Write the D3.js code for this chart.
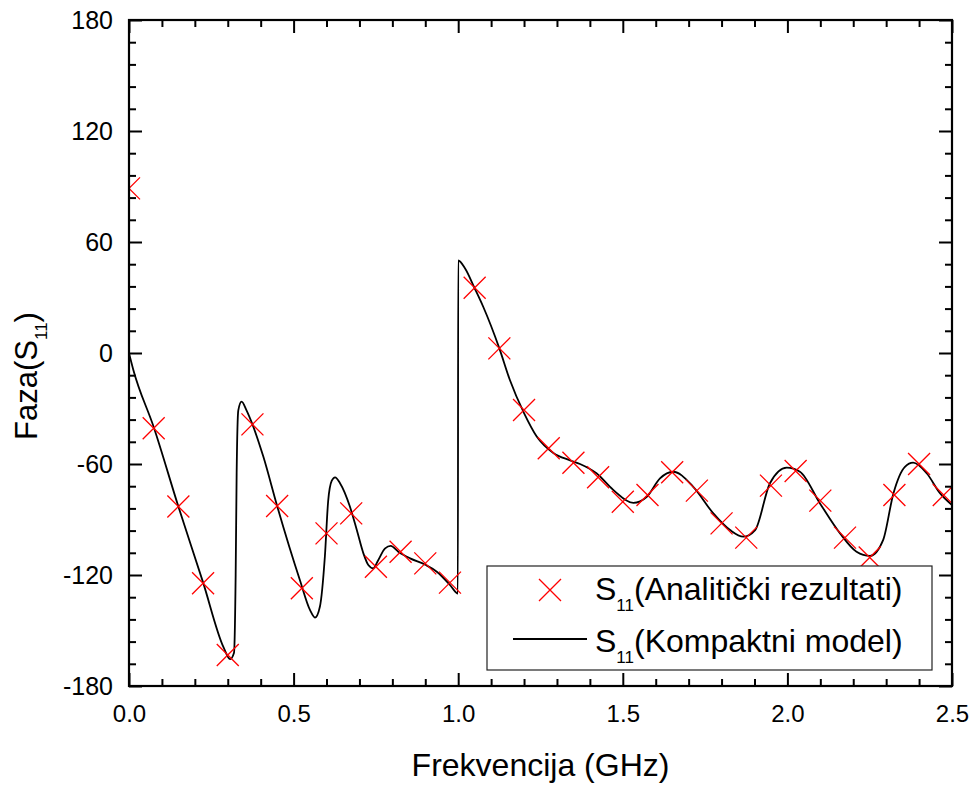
<!DOCTYPE html>
<html>
<head>
<meta charset="utf-8">
<script src="https://cdn.jsdelivr.net/npm/d3@7"></script>
<style>
  html, body { margin: 0; padding: 0; background: #fff; }
  svg { display: block; font-family: Arial, "Liberation Sans", sans-serif; }
</style>
</head>
<body>
<svg id="chart" width="974" height="785"></svg>
<script>
// ---- data ----
const markerFreq = [0, 0.075, 0.15, 0.225, 0.3, 0.375, 0.45, 0.525, 0.6, 0.675, 0.75, 0.825, 0.9, 0.975,
  1.05, 1.125, 1.2, 1.275, 1.35, 1.425, 1.5, 1.575, 1.65, 1.725, 1.8, 1.875, 1.95, 2.025, 2.1, 2.175,
  2.25, 2.325, 2.4, 2.475];
const markerPhase = [89, -40.7, -83, -124.5, -163.2, -38.6, -82.7, -127.2, -97.5, -86.7, -115.5, -107.4, -113.7, -124.1,
  35.3, 2.5, -30.8, -51.5, -59.3, -67.2, -80.4, -76.8, -64.5, -74.4, -92.1, -99.8, -71.7, -63.8, -79.8, -99.8,
  -110.5, -76.8, -60, -76.8];

const lineFreq = [0, 0.013, 0.075, 0.15, 0.225, 0.287, 0.307, 0.319, 0.324, 0.327, 0.332, 0.342, 0.357, 0.375,
  0.408, 0.45, 0.519, 0.55, 0.565, 0.58, 0.595, 0.605, 0.616, 0.626, 0.641, 0.671, 0.692, 0.712, 0.727, 0.742,
  0.757, 0.778, 0.795, 0.818, 0.854, 0.9, 0.935, 0.975, 0.997, 0.999, 1.0, 1.02, 1.05, 1.076, 1.125, 1.157,
  1.2, 1.238, 1.289, 1.34, 1.37, 1.42, 1.471, 1.532, 1.573, 1.613, 1.653, 1.714, 1.775, 1.826, 1.866, 1.902,
  1.947, 1.998, 2.038, 2.099, 2.16, 2.21, 2.251, 2.291, 2.322, 2.357, 2.382, 2.423, 2.464, 2.5];
const linePhase = [0, -9, -40, -83, -124, -159, -165.5, -162, -120, -65, -31, -26.3, -31, -38.6,
  -56, -82.7, -122.7, -139, -143, -137, -110, -80, -69, -67.2, -70.4, -83, -95.7, -108.3, -114.6, -116.4,
  -112, -105.6, -104.3, -107.4, -111, -114.5, -118.2, -125.4, -129.9, -130, 50, 46, 35, 25, 2.5, -14.6,
  -32.5, -45, -54, -58, -60, -65, -74, -81, -77.7, -67.8, -64.2, -72.3, -86.7, -95.7, -99.3, -95.7,
  -70.4, -62, -64.2, -81.3, -97.5, -107.4, -109.7, -101, -75.9, -61.5, -59.3, -65, -75.9, -82.2];

const xTicks = [0, 0.5, 1.0, 1.5, 2.0, 2.5];
const xTickLabels = ["0.0", "0.5", "1.0", "1.5", "2.0", "2.5"];
const yTicks = [-180, -120, -60, 0, 60, 120, 180];
const yTickLabels = ["-180", "-120", "-60", "0", "60", "120", "180"];
const legendLabels = ["(Analitički rezultati)", "(Kompaktni model)"];

// ---- layout ----
const svg = d3.select("#chart");
const L = 129, T = 20, R = 952, B = 686;
const x = d3.scaleLinear().domain([0, 2.5]).range([L, R]);
const y = d3.scaleLinear().domain([-180, 180]).range([B, T]);

svg.append("defs").append("clipPath").attr("id", "clip")
  .append("rect").attr("x", L).attr("y", T).attr("width", R - L).attr("height", B - T);

const plot = svg.append("g").attr("clip-path", "url(#clip)");

// line
const lineData = lineFreq.map((f, i) => [f, linePhase[i]]);
plot.append("path")
  .datum(lineData)
  .attr("fill", "none")
  .attr("stroke", "#000")
  .attr("stroke-width", 1.8)
  .attr("stroke-linejoin", "round")
  .attr("d", d3.line().x(d => x(d[0])).y(d => y(d[1])).curve(d3.curveMonotoneX));

// markers
const ms = 11;
const markerData = markerFreq.map((f, i) => [f, markerPhase[i]]);
plot.selectAll("path.mk").data(markerData).enter().append("path")
  .attr("class", "mk")
  .attr("d", d => {
    const cx = x(d[0]), cy = y(d[1]);
    return `M${cx - ms},${cy - ms}L${cx + ms},${cy + ms}M${cx - ms},${cy + ms}L${cx + ms},${cy - ms}`;
  })
  .attr("stroke", "#ff0000")
  .attr("stroke-width", 1.3)
  .attr("fill", "none");

// ---- axes ----
const majorLen = 13, minorLen = 7;
const xMinor = d3.range(0, 26).map(i => i / 10).filter(v => Math.abs(v * 2 - Math.round(v * 2)) > 1e-6);
const yMinor = d3.range(-180, 181, 12).filter(v => v % 60 !== 0);

function styleAxis(g) {
  g.selectAll(".domain").remove();
  g.selectAll(".tick line").attr("stroke", "#000").attr("stroke-width", 2);
}

// bottom
const gb = svg.append("g").attr("transform", `translate(0,${B})`)
  .call(d3.axisBottom(x).tickValues(xTicks).tickFormat((d, i) => xTickLabels[i]).tickSizeInner(-majorLen).tickSizeOuter(0).tickPadding(19));
styleAxis(gb);
gb.selectAll("text").attr("font-size", 24).attr("fill", "#000").attr("font-family", "Arial, 'Liberation Sans', sans-serif");
const gbm = svg.append("g").attr("transform", `translate(0,${B})`)
  .call(d3.axisBottom(x).tickValues(xMinor).tickFormat("").tickSizeInner(-minorLen).tickSizeOuter(0));
styleAxis(gbm);

// top
const gt = svg.append("g").attr("transform", `translate(0,${T})`)
  .call(d3.axisTop(x).tickValues(xTicks).tickFormat("").tickSizeInner(-majorLen).tickSizeOuter(0));
styleAxis(gt);
const gtm = svg.append("g").attr("transform", `translate(0,${T})`)
  .call(d3.axisTop(x).tickValues(xMinor).tickFormat("").tickSizeInner(-minorLen).tickSizeOuter(0));
styleAxis(gtm);

// left
const gl = svg.append("g").attr("transform", `translate(${L},0)`)
  .call(d3.axisLeft(y).tickValues(yTicks).tickFormat((d, i) => yTickLabels[i]).tickSizeInner(-majorLen).tickSizeOuter(0).tickPadding(16));
styleAxis(gl);
gl.selectAll("text").attr("font-size", 25).attr("fill", "#000").attr("font-family", "Arial, 'Liberation Sans', sans-serif");
const glm = svg.append("g").attr("transform", `translate(${L},0)`)
  .call(d3.axisLeft(y).tickValues(yMinor).tickFormat("").tickSizeInner(-minorLen).tickSizeOuter(0));
styleAxis(glm);

// right
const gr = svg.append("g").attr("transform", `translate(${R},0)`)
  .call(d3.axisRight(y).tickValues(yTicks).tickFormat("").tickSizeInner(-majorLen).tickSizeOuter(0));
styleAxis(gr);
const grm = svg.append("g").attr("transform", `translate(${R},0)`)
  .call(d3.axisRight(y).tickValues(yMinor).tickFormat("").tickSizeInner(-minorLen).tickSizeOuter(0));
styleAxis(grm);

// frame
svg.append("rect").attr("x", L).attr("y", T).attr("width", R - L).attr("height", B - T)
  .attr("fill", "none").attr("stroke", "#000").attr("stroke-width", 2.2);

// ---- axis titles ----
svg.append("text").attr("x", (L + R) / 2).attr("y", 776).attr("text-anchor", "middle")
  .attr("font-size", 32).attr("fill", "#000").text("Frekvencija (GHz)");

const yt = svg.append("text").attr("transform", "translate(37,376) rotate(-90)")
  .attr("text-anchor", "middle").attr("font-size", 31).attr("fill", "#000");
yt.append("tspan").text("Faza(S");
yt.append("tspan").attr("font-size", 17).attr("dy", 10).text("11");
yt.append("tspan").attr("dy", -10).text(")");

// ---- legend ----
const lg = svg.append("g");
lg.append("rect").attr("x", 487).attr("y", 566).attr("width", 445).attr("height", 104)
  .attr("fill", "#fff").attr("stroke", "#222").attr("stroke-width", 1.2);
// marker sample
const lmx = 550, lmy = 590;
lg.append("path")
  .attr("d", `M${lmx - ms},${lmy - ms}L${lmx + ms},${lmy + ms}M${lmx - ms},${lmy + ms}L${lmx + ms},${lmy - ms}`)
  .attr("stroke", "#ff0000").attr("stroke-width", 1.3).attr("fill", "none");
lg.append("line").attr("x1", 513).attr("x2", 587).attr("y1", 639).attr("y2", 639)
  .attr("stroke", "#000").attr("stroke-width", 1.8);
[600, 652].forEach((by, i) => {
  const t = lg.append("text").attr("x", 595).attr("y", by).attr("font-size", 32).attr("fill", "#000");
  t.append("tspan").text("S");
  t.append("tspan").attr("font-size", 17).attr("dy", 11).text("11");
  t.append("tspan").attr("dy", -11).text(legendLabels[i]);
});
</script>
</body>
</html>
